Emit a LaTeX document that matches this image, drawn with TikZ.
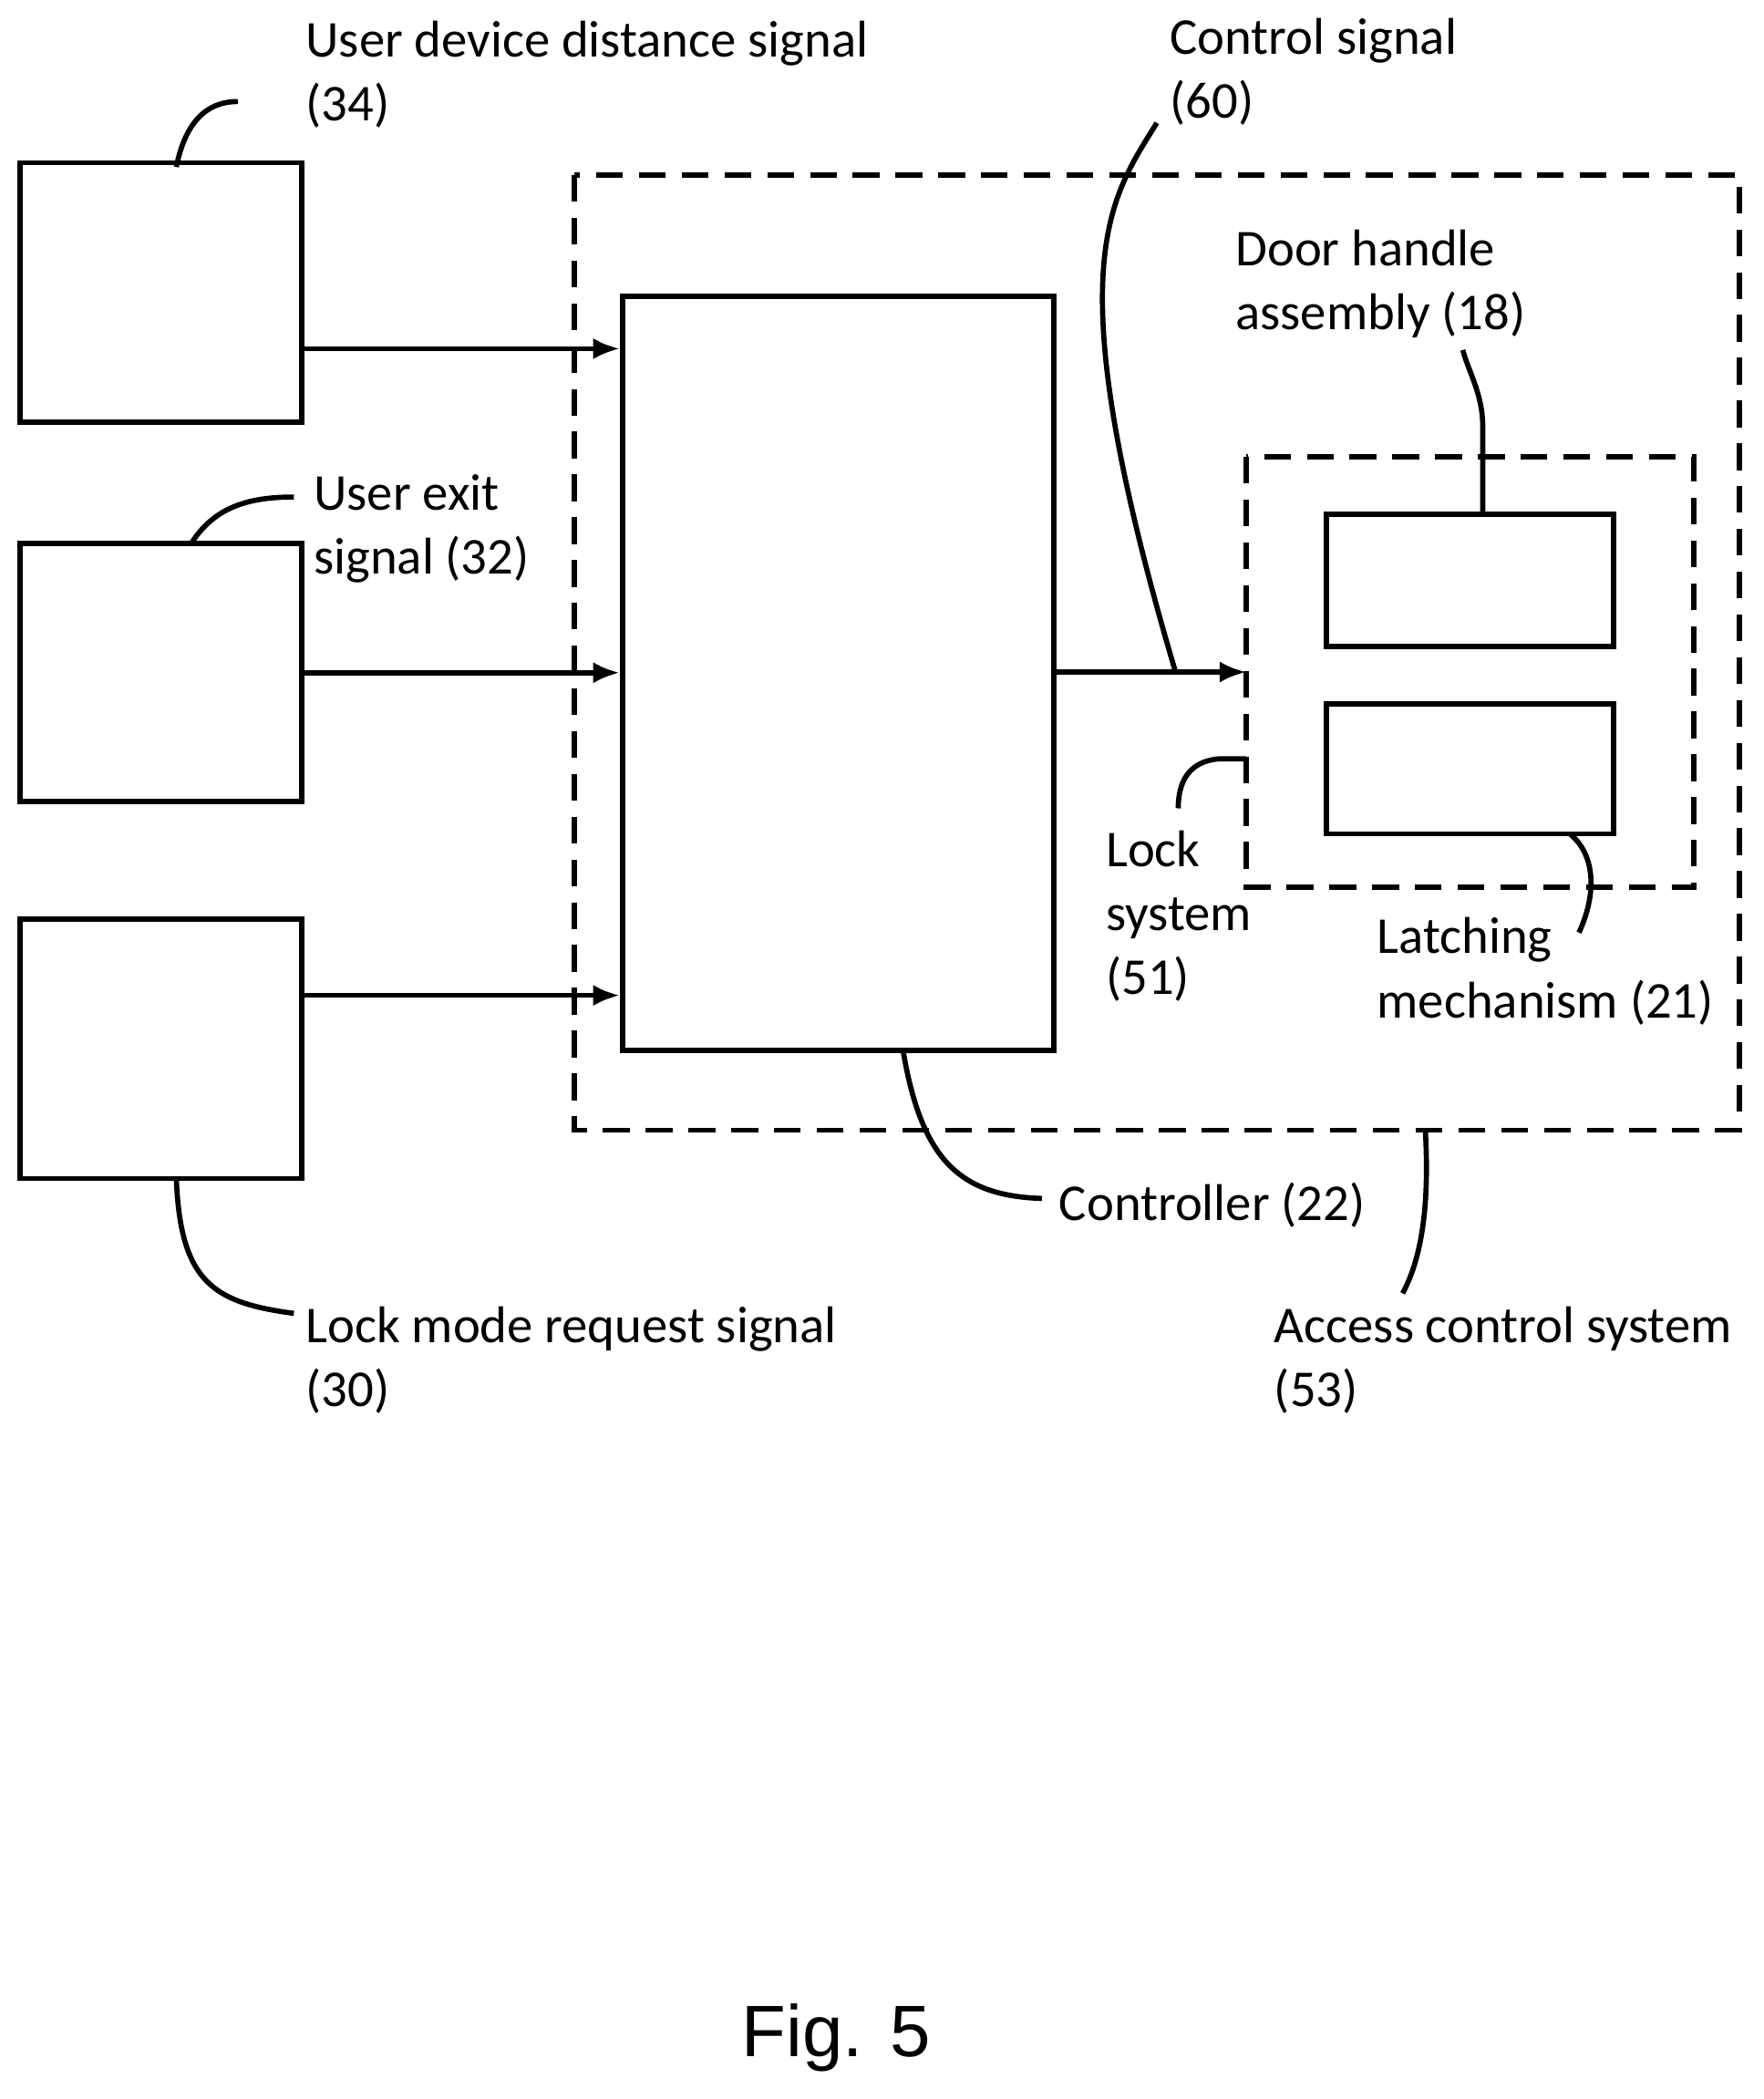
\documentclass[tikz,border=0pt]{standalone}
\usepackage{fontspec}
\setmainfont{Carlito}
\newfontfamily\figfont{Liberation Sans}
\usetikzlibrary{positioning, arrows.meta}

\begin{document}
\begin{tikzpicture}[
	x=0.01cm,
	y=-0.01cm,
	line width=1.1pt,
	every block/.style={draw, rectangle, inner sep=0pt},
	every label text/.style={anchor=north west, inner sep=0pt, align=left, font=\fontsize{11}{13.6}\selectfont},
	dashed box/.style={draw, dash pattern=on 0.2cm off 0.12cm},
	leader/.style={line width=1.1pt},
	>={Latex[length=0.2cm,width=0.16cm]}
]
\useasboundingbox (0,0) rectangle (1320,1571);

% input blocks
\node[every block, minimum width=2.11cm, minimum height=1.94cm] (distance) at (120.5,219) {};
\node[every block, minimum width=2.11cm, minimum height=1.93cm] (exit) at (120.5,503.5) {};
\node[every block, minimum width=2.11cm, minimum height=1.94cm] (mode) at (120.5,785) {};

% systems
\draw[dashed box] (430,131) rectangle (1302,846);
\coordinate (access) at (1067,846);
\node[every block, minimum width=3.23cm, minimum height=5.64cm] (controller) at (627.5,504) {};
\draw[dashed box] (933,342) rectangle (1268,664);
\coordinate (lock) at (933,568);
\node[every block, minimum width=2.15cm, minimum height=0.99cm] (handle) at (1100.5,434.5) {};
\node[every block, minimum width=2.15cm, minimum height=0.97cm] (latch) at (1100.5,575.5) {};

% signals
\draw[->] (distance.east |- 0,261) -- (controller.west |- 0,261);
\draw[->] (exit.east) -- (controller.west |- exit.east);
\draw[->] (mode.east |- 0,745) -- (controller.west |- 0,745);
\coordinate (lockin) at (933,503);
\draw[->] (controller.east |- lockin) -- (lockin);

% texts
\node[every label text] (t34) at (227,14) {User device distance signal\\(34)};
\node[every label text] (t60) at (874,12) {Control signal\\(60)};
\node[every label text] (t18) at (923,170) {Door handle\\assembly (18)};
\node[every label text] (t32) at (233,353) {User exit\\signal (32)};
\node[every label text] (t51) at (826,620) {Lock\\system\\(51)};
\node[every label text] (t21) at (1029,685) {Latching\\mechanism (21)};
\node[every label text] (t22) at (791,883) {Controller (22)};
\node[every label text] (t30) at (227,976) {Lock mode request signal\\(30)};
\node[every label text] (t53) at (952,976) {Access control system\\(53)};
\node[font=\figfont\fontsize{15.5}{18}\selectfont] (fig) at (626,1525) {Fig. 5};

% leaders
\draw[leader] (132,125) .. controls (140,85) and (160,76) .. (178,76);
\draw[leader] (143,407) .. controls (160,380) and (185,372) .. (220,372);
\draw[leader] (132,882) .. controls (135,960) and (160,975) .. (220,983);
\draw[leader] (880,503) .. controls (790,200) and (830,150) .. (866,92);
\draw[leader] (1110,385) -- (1110,320) .. controls (1110,295) and (1100,280) .. (1095,262);
\draw[leader] (lock) -- (912,568) .. controls (890,570) and (882,585) .. (882,605);
\draw[leader] (1175,624) .. controls (1195,640) and (1195,670) .. (1182,698);
\draw[leader] (676,786) .. controls (690,870) and (720,895) .. (780,897);
\draw[leader] (access) .. controls (1070,900) and (1065,940) .. (1050,968);
\end{tikzpicture}
\end{document}
